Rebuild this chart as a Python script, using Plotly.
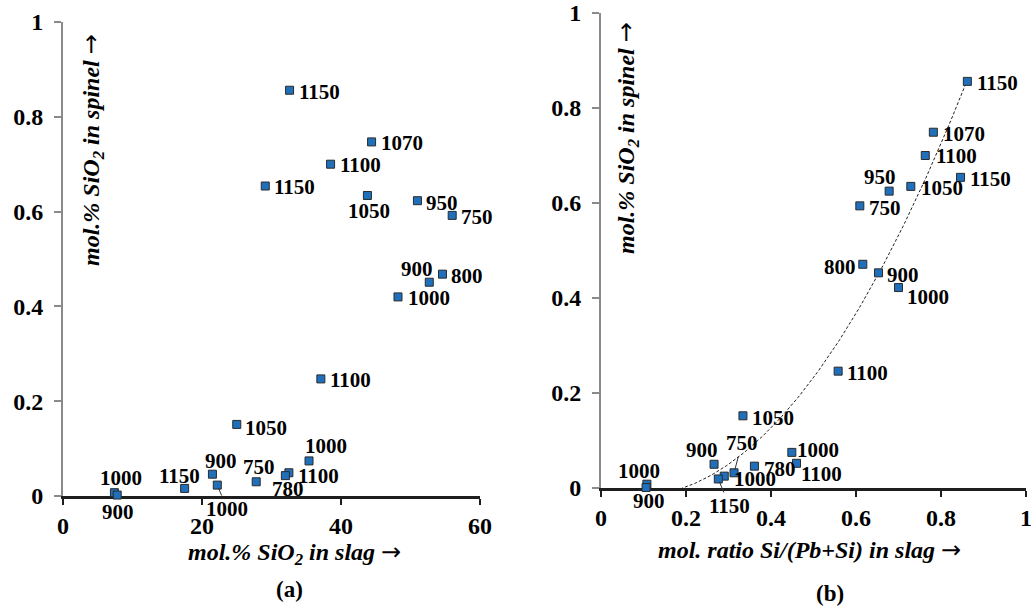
import numpy as np
import plotly.graph_objects as go

# ---------------- data ----------------
# Panel (a): SiO2 in slag (mol.%) vs SiO2 in spinel (mol.%), labelled by temperature
TEMP_A = [1150, 1070, 1100, 1150, 1050, 950, 750, 900, 800, 1000, 1100,
          1050, 1000, 1100, 780, 750, 900, 1000, 1150, 1000, 900]
SLAG_SIO2_A = [32.6, 44.4, 38.5, 29.1, 43.8, 51.0, 56.0, 52.7, 54.6, 48.2, 37.1,
               25.0, 35.4, 32.5, 32.0, 27.8, 21.5, 22.2, 17.5, 7.4, 7.8]
SPINEL_SIO2_A = [0.856, 0.747, 0.700, 0.654, 0.634, 0.623, 0.592, 0.451, 0.468, 0.420, 0.247,
                 0.151, 0.074, 0.049, 0.043, 0.030, 0.046, 0.023, 0.016, 0.007, 0.002]

# Panel (b): Si/(Pb+Si) molar ratio in slag vs SiO2 in spinel
TEMP_B = [1150, 1070, 1100, 1150, 1050, 950, 750, 800, 900, 1000, 1100,
          1050, 1000, 1100, 780, 900, 750, 1000, 1150, 1000, 900]
SI_RATIO_B = [0.862, 0.782, 0.763, 0.846, 0.729, 0.678, 0.609, 0.616, 0.653, 0.700, 0.558,
              0.334, 0.449, 0.460, 0.361, 0.266, 0.313, 0.290, 0.276, 0.108, 0.106]
SPINEL_SIO2_B = [0.856, 0.749, 0.700, 0.654, 0.635, 0.625, 0.594, 0.471, 0.453, 0.422, 0.246,
                 0.152, 0.075, 0.052, 0.046, 0.050, 0.032, 0.025, 0.019, 0.008, 0.001]

# 2nd-order polynomial trend line for panel (b)
TREND_COEFFS_B = [1.4557, -0.2514, -0.0057]

X_TICKS_A = [0, 20, 40, 60]
X_TICKS_B = [0, 0.2, 0.4, 0.6, 0.8, 1.0]
X_TICKTEXT_B = ["0", "0.2", "0.4", "0.6", "0.8", "1"]
Y_TICKS = [0, 0.2, 0.4, 0.6, 0.8, 1.0]
Y_TICKTEXT = ["0", "0.2", "0.4", "0.6", "0.8", "1"]

# ---------------- label placement (anchor, dx, dy in px; 'lead' = leader line) ----------------
PLACE_A = [("left", 7, 2), ("left", 7, 1), ("left", 7, 1), ("left", 7, 1),
           ("center", 2, 16), ("left", 7, 2), ("left", 7, 2), ("center", -12, -13),
           ("left", 7, 2), ("left", 8, 1), ("left", 7, 1), ("left", 6, 4),
           ("center", 17, -15), ("left", 7, 3), ("center", 3, 13), ("center", 3, -15),
           ("center", 9, -13), ("lead", 10, 24), ("center", -5, -12), ("center", 7, -15),
           ("center", 1, 17)]
PLACE_B = [("left", 8, 2), ("left", 8, 2), ("left", 9, 1), ("left", 7, 2),
           ("left", 8, 2), ("center", -9, -14), ("left", 7, 2), ("right", -5, 3),
           ("left", 6, 2), ("left", 6, 9), ("left", 7, 2), ("left", 7, 2),
           ("left", 3, -2), ("left", 2, 11), ("left", 8, 3), ("center", -12, -14),
           ("lead", 8, -30), ("left", 8, 3), ("lead", 11, 27), ("center", -8, -13),
           ("center", 3, 13)]

FONT = "Liberation Serif"
W, H = 1031, 607
MARKER = dict(symbol="square", size=8, color="#1f6fba", line=dict(color="#2b2b2b", width=1))


def px_x(p):
    return p / W


def px_y(p):
    return 1 - p / H


fig = go.Figure()

fig.add_trace(go.Scatter(x=SLAG_SIO2_A, y=SPINEL_SIO2_A, mode="markers", marker=MARKER,
                         cliponaxis=False, xaxis="x", yaxis="y", showlegend=False))

trend_x = np.linspace(min(SI_RATIO_B), max(SI_RATIO_B), 200)
trend_y = np.polyval(TREND_COEFFS_B, trend_x)
fig.add_trace(go.Scatter(x=trend_x, y=trend_y, mode="lines",
                         line=dict(color="#222222", width=1, dash="3px,2px"),
                         xaxis="x2", yaxis="y2", showlegend=False))
fig.add_trace(go.Scatter(x=SI_RATIO_B, y=SPINEL_SIO2_B, mode="markers", marker=MARKER,
                         cliponaxis=False, xaxis="x2", yaxis="y2", showlegend=False))

annotations = []
label_font = dict(family=FONT, size=21, color="black", weight="bold")


def add_labels(xs, ys, temps, places, xref, yref):
    for x, y, t, (anc, dx, dy) in zip(xs, ys, temps, places):
        if anc == "lead":
            annotations.append(dict(x=x, y=y, xref=xref, yref=yref, text=str(t),
                                    showarrow=True, arrowhead=0, arrowwidth=1,
                                    arrowcolor="#333333", ax=dx, ay=dy, standoff=3,
                                    font=label_font))
        else:
            annotations.append(dict(x=x, y=y, xref=xref, yref=yref, text=str(t),
                                    showarrow=False, xanchor=anc, yanchor="middle",
                                    xshift=dx, yshift=-dy, font=label_font))


add_labels(SLAG_SIO2_A, SPINEL_SIO2_A, TEMP_A, PLACE_A, "x", "y")
add_labels(SI_RATIO_B, SPINEL_SIO2_B, TEMP_B, PLACE_B, "x2", "y2")

title_font = dict(family=FONT, size=24, color="black", weight="bold", style="italic")
caption_font = dict(family=FONT, size=23, color="black", weight="bold")
ARROW = '<span style="font-family:DejaVu Sans;font-weight:normal;font-style:normal">→</span>'
y_title = "mol.% SiO<sub>2</sub> in spinel " + ARROW


def paper_text(px, py, text, font, angle=0):
    return dict(x=px_x(px), y=px_y(py), xref="paper", yref="paper", text=text,
                textangle=angle, showarrow=False, xanchor="center", yanchor="middle",
                font=font)


annotations += [
    paper_text(92, 150, y_title, title_font, -90),
    paper_text(627, 138, y_title, title_font, -90),
    paper_text(294, 553, "mol.% SiO<sub>2</sub> in slag " + ARROW, title_font),
    paper_text(809, 550, "mol. ratio Si/(Pb+Si) in slag " + ARROW, title_font),
    paper_text(289, 589, "(a)", caption_font),
    paper_text(830, 593, "(b)", caption_font),
]

tick_font = dict(family=FONT, size=24, color="black", weight="bold")
xaxis_common = dict(showline=True, linecolor="#1e1e1e", linewidth=2.5, ticks="outside",
                    ticklen=6, tickwidth=2, tickcolor="#1e1e1e", showgrid=False,
                    zeroline=False, tickfont=tick_font, layer="below traces",
                    ticklabelstandoff=0, automargin=False, ticklabeloverflow="allow")
yaxis_common = dict(showline=True, linecolor="#8a8a8a", linewidth=2, ticks="outside",
                    ticklen=7, tickwidth=2, tickcolor="#8a8a8a", showgrid=False,
                    zeroline=False, tickfont=tick_font, layer="below traces",
                    range=[0, 1], tickvals=Y_TICKS, ticktext=Y_TICKTEXT,
                    ticklabelstandoff=6, automargin=False, ticklabeloverflow="allow")

fig.update_layout(
    width=W, height=H,
    margin=dict(l=0, r=0, t=0, b=0, autoexpand=False),
    paper_bgcolor="white", plot_bgcolor="white",
    xaxis=dict(xaxis_common, domain=[px_x(63), px_x(480)], range=[0, 60],
               tickvals=X_TICKS_A, anchor="y"),
    yaxis=dict(yaxis_common, domain=[px_y(496), px_y(22)], anchor="x"),
    xaxis2=dict(xaxis_common, domain=[px_x(601), px_x(1026)], range=[0, 1],
                tickvals=X_TICKS_B, ticktext=X_TICKTEXT_B, anchor="y2"),
    yaxis2=dict(yaxis_common, domain=[px_y(488), px_y(13)], anchor="x2"),
    annotations=annotations,
)

fig.write_html("out.html")
